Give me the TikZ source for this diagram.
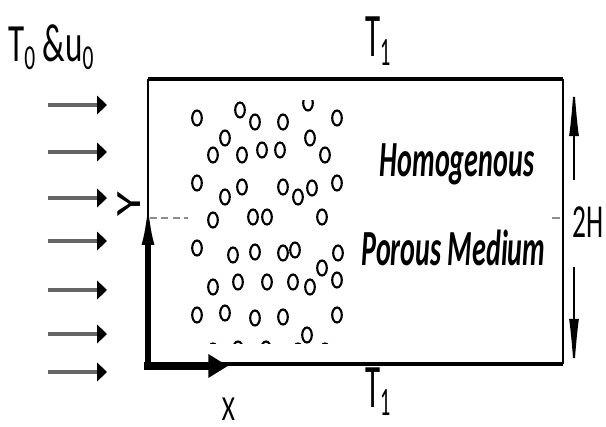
\documentclass[tikz,border=0pt]{standalone}
\usepackage{fontspec}
\setmainfont{Carlito}
\usepackage{graphicx}
\usetikzlibrary{arrows.meta}

\newcommand{\vstretch}[2]{\scalebox{1}[#1]{#2}}
\newcommand{\lowsub}[1]{\raisebox{-0.13em}{\scalebox{0.65}{#1}}}

\begin{document}
\begin{tikzpicture}[x=0.025cm, y=-0.025cm,
    lbl/.style={inner sep=0pt, anchor=base west},
    mid/.style={inner sep=0pt, anchor=base},
    wall/.style={line width=3.5pt},
    side/.style={line width=2pt},
    flow/.style={draw=black!60, line width=2.8pt, -{Triangle[length=7pt,width=13pt,color=black]}},
    yaxis/.style={line width=3.6pt, -{Latex[length=32pt,width=9pt]}},
    xaxis/.style={line width=5pt, -{Triangle[length=14pt,width=16pt]}},
    span/.style={line width=1.4pt, -{Latex[length=40pt,width=7pt]}},
    pore/.style={line width=1.5pt},
    centre/.style={draw=black!45, line width=1.6pt, dash pattern=on 5pt off 3pt}]
    \useasboundingbox (0,0) rectangle (606,427);

    % channel walls
    \coordinate (BL) at (148,364);
    \coordinate (BR) at (563,364);
    \coordinate (TL) at (148,79);
    \coordinate (TR) at (563,79);
    \draw[wall] (TL) -- (TR);
    \draw[wall] (BL) -- (BR);
    \draw[side] (TL) -- (BL);
    \draw[side] (TR) -- (BR);

    % inlet flow
    \foreach \y [count=\i] in {105,152,198,241,290,334,372} {
        \coordinate (in\i) at (48,\y);
        \draw[flow] (in\i) -- ++(59,0);
    }

    % porous matrix
    \begin{scope}
        \clip (185,101) rectangle (350,343);
        \foreach \cx/\cy in {197/118,240/110,255/122,283/122,308/103,337/118,
                             225/138,213/155,242/155,262/150,280/150,310/138,325/155,
                             197/183,225/197,242/187,283/187,298/197,312/188,337/183,
                             213/220,253/217,267/217,322/217,
                             197/248,233/255,255/252,283/253,295/250,322/268,338/253,
                             213/287,238/282,267/282,293/282,310/287,337/280,
                             197/315,225/313,255/318,283/317,307/335,337/315,
                             213/351,238/349,266/349,298/351,325/351}
            \draw[pore] (\cx,\cy) ellipse [x radius=4.8, y radius=7.5];
    \end{scope}

    % centreline
    \coordinate (c1) at (150,218);
    \coordinate (c2) at (188,218);
    \coordinate (c3) at (552,218);
    \coordinate (c4) at (560,218);
    \draw[centre] (c1) -- (c2);
    \draw[draw=black!45, line width=1.6pt] (c3) -- (c4);

    % axes
    \coordinate (O) at (148,366);
    \coordinate (yEnd) at (148,200);
    \coordinate (xEnd) at (228,366);
    \draw[yaxis] ([yshift=-3pt]O) -- (yEnd);
    \draw[xaxis] ([xshift=-2.5pt]O) -- (xEnd);

    % height
    \coordinate (hUp) at (574,180);
    \coordinate (hTop) at (574,80);
    \coordinate (hDown) at (574,267);
    \coordinate (hBot) at (574,375);
    \draw[span] (hUp) -- (hTop);
    \draw[span] (hDown) -- (hBot);

    % labels
    \node[lbl] (inlet) at (8,62) {\fontsize{23.5}{28}\selectfont\vstretch{1.63}{T\lowsub{0} \&u\lowsub{0}}};
    \node[lbl] (topT) at (365,57) {\fontsize{22}{26}\selectfont\vstretch{2}{T\lowsub{1}}};
    \node[lbl] (botT) at (365,407) {\fontsize{22}{26}\selectfont\vstretch{2}{T\lowsub{1}}};
    \node[mid] (xlab) at (228.5,420) {\fontsize{18}{22}\selectfont\vstretch{1.39}{X}};
    \node[mid, rotate=90] (ylab) at (140,204.5) {\fontsize{18}{22}\selectfont\scalebox{2}[1.4]{Y}};
    \node[lbl] (twoH) at (572,237) {\fontsize{19.5}{23}\selectfont\vstretch{1.73}{2H}};
    \node[mid] (homog) at (457,177) {\fontsize{20}{24}\selectfont\bfseries\itshape\vstretch{1.8}{Homogenous}};
    \node[mid] (medium) at (453.5,265) {\fontsize{20}{24}\selectfont\bfseries\itshape\vstretch{1.8}{Porous Medium}};
\end{tikzpicture}
\end{document}
